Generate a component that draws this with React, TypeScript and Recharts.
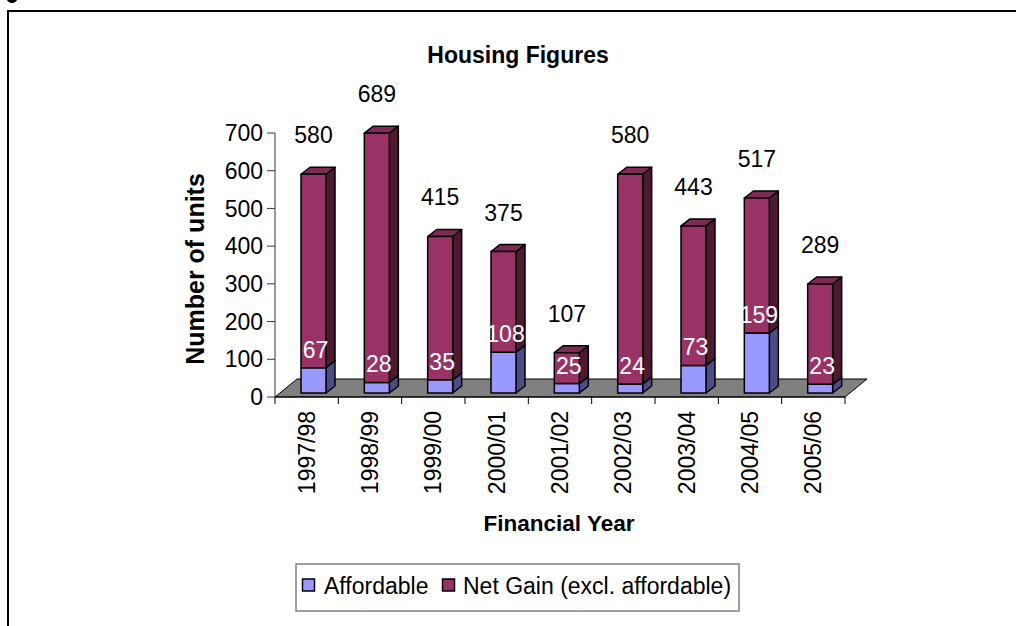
import React from 'react';
import { BarChart, Bar, XAxis, YAxis, LabelList } from 'recharts';

const years = ['1997/98', '1998/99', '1999/00', '2000/01', '2001/02', '2002/03', '2003/04', '2004/05', '2005/06'];
const affordable = [67, 28, 35, 108, 25, 24, 73, 159, 23];
const totals = [580, 689, 415, 375, 107, 580, 443, 517, 289];
const yTicks = [0, 100, 200, 300, 400, 500, 600, 700];
const seriesNames = ['Affordable', 'Net Gain (excl. affordable)'];
const chartTitle = 'Housing Figures';
const xTitle = 'Financial Year';
const yTitle = 'Number of units';

const data = years.map((year, i) => ({
  year,
  affordable: affordable[i],
  netGain: totals[i] - affordable[i],
  total: totals[i],
}));

const W = 1016;
const H = 626;
const PLOT_L = 275;
const PLOT_R = 845;
const PLOT_T = 133;
const PLOT_B = 397;
const YAXIS_W = 100;
const XAXIS_H = 130;
const BAND = (PLOT_R - PLOT_L) / years.length;
const FONT = 'Arial, "Liberation Sans", sans-serif';
const FS = 23;

// 3D offsets
const SHIFT_X = 7;
const SHIFT_Y = -4;
const DEPTH_X = 9;
const DEPTH_Y = -7;
const FLOOR_DX = 22;
const FLOOR_DY = -18;

const BLUE = { front: '#9999FF', side: '#4D4D85', top: '#7A7ACC' };
const MAROON = { front: '#993366', side: '#4D1933', top: '#7E2A55' };

function makeBox(c: { front: string; side: string; top: string }, drawTop: boolean) {
  return (p: any) => {
    const { x, y, width, height } = p;
    if (width == null || height == null) return <g />;
    const fx = x + SHIFT_X;
    const fy = y + SHIFT_Y;
    const w = width;
    const h = height;
    const side = `${fx + w},${fy} ${fx + w + DEPTH_X},${fy + DEPTH_Y} ${fx + w + DEPTH_X},${fy + h + DEPTH_Y} ${fx + w},${fy + h}`;
    const top = `${fx},${fy} ${fx + DEPTH_X},${fy + DEPTH_Y} ${fx + w + DEPTH_X},${fy + DEPTH_Y} ${fx + w},${fy}`;
    return (
      <g stroke="#000" strokeWidth={1.5} strokeLinejoin="round">
        <polygon points={side} fill={c.side} />
        {drawTop && <polygon points={top} fill={c.top} />}
        <rect x={fx} y={fy} width={w} height={h} fill={c.front} />
      </g>
    );
  };
}

const BlueBox = makeBox(BLUE, false);
const MaroonBox = makeBox(MAROON, true);

function InnerLabel(p: any) {
  const { x, y, width, value } = p;
  return (
    <text
      x={x + SHIFT_X + width / 2 + 2}
      y={y + SHIFT_Y - 10}
      textAnchor="middle"
      fill="#fff"
      fontSize={FS}
      fontFamily={FONT}
    >
      {value}
    </text>
  );
}

function TotalLabel(p: any) {
  const { x, y, width, value } = p;
  return (
    <text
      x={x + SHIFT_X + width / 2}
      y={y + SHIFT_Y - 31}
      textAnchor="middle"
      fill="#000"
      fontSize={FS}
      fontFamily={FONT}
    >
      {value}
    </text>
  );
}

function XTick(p: any) {
  const { x, payload, index } = p;
  return (
    <g>
      <line x1={x + BAND / 2} x2={x + BAND / 2} y1={PLOT_B} y2={PLOT_B + 7} stroke="#000" strokeWidth={1} />
      {index === 0 && (
        <line x1={x - BAND / 2} x2={x - BAND / 2} y1={PLOT_B} y2={PLOT_B + 7} stroke="#000" strokeWidth={1} />
      )}
      <text
        transform={`translate(${x},${PLOT_B + 14}) rotate(-90)`}
        textAnchor="end"
        dominantBaseline="central"
        fontSize={FS}
        fontFamily={FONT}
        fill="#000"
      >
        {payload.value}
      </text>
    </g>
  );
}

export default function App() {
  const floor = `${PLOT_L},${PLOT_B} ${PLOT_R},${PLOT_B} ${PLOT_R + FLOOR_DX},${PLOT_B + FLOOR_DY} ${PLOT_L + FLOOR_DX},${PLOT_B + FLOOR_DY}`;
  return (
    <div style={{ position: 'absolute', left: 0, top: 0, width: W, height: H, background: '#fff', overflow: 'hidden' }}>
      {/* floor underlay */}
      <svg width={W} height={H} style={{ position: 'absolute', left: 0, top: 0 }}>
        <polygon points={floor} fill="#808080" stroke="#000" strokeWidth={1} />
      </svg>
      <div style={{ position: 'absolute', left: 0, top: 0 }}>
        <BarChart
          width={W}
          height={H}
          data={data}
          barSize={25}
          margin={{ top: PLOT_T, right: W - PLOT_R, left: PLOT_L - YAXIS_W, bottom: H - PLOT_B - XAXIS_H }}
        >
          <XAxis
            dataKey="year"
            height={XAXIS_H}
            interval={0}
            tickLine={false}
            axisLine={{ stroke: '#000', strokeWidth: 1 }}
            tick={<XTick />}
          />
          <YAxis
            width={YAXIS_W}
            domain={[0, 700]}
            ticks={yTicks}
            interval={0}
            tickSize={8}
            tickMargin={4}
            axisLine={{ stroke: '#333', strokeWidth: 1 }}
            tickLine={{ stroke: '#333', strokeWidth: 1 }}
            tick={{ fontSize: FS, fontFamily: FONT, fill: '#000' }}
          />
          <Bar dataKey="affordable" stackId="s" name={seriesNames[0]} fill={BLUE.front} shape={BlueBox} isAnimationActive={false}>
            <LabelList dataKey="affordable" content={InnerLabel} />
          </Bar>
          <Bar dataKey="netGain" stackId="s" name={seriesNames[1]} fill={MAROON.front} shape={MaroonBox} isAnimationActive={false}>
            <LabelList dataKey="total" content={TotalLabel} />
          </Bar>
        </BarChart>
      </div>
      {/* frame, titles, legend */}
      <svg width={W} height={H} style={{ position: 'absolute', left: 0, top: 0, pointerEvents: 'none' }}>
        <ellipse cx={12} cy={-1} rx={5} ry={4} fill="#000" />
        <line x1={7} y1={11} x2={W} y2={11} stroke="#000" strokeWidth={2} />
        <line x1={8} y1={10} x2={8} y2={H} stroke="#000" strokeWidth={2} />
        <text x={518} y={63} textAnchor="middle" fontSize={23} fontWeight="bold" fontFamily={FONT} fill="#000">
          {chartTitle}
        </text>
        <text
          transform={`translate(195,269) rotate(-90)`}
          textAnchor="middle"
          dominantBaseline="central"
          fontSize={25}
          fontWeight="bold"
          fontFamily={FONT}
          fill="#000"
        >
          {yTitle}
        </text>
        <text x={559} y={531} textAnchor="middle" fontSize={22.5} fontWeight="bold" fontFamily={FONT} fill="#000">
          {xTitle}
        </text>
        <rect x={296} y={564} width={443} height={47} fill="#fff" stroke="#808080" strokeWidth={1.5} />
        <rect x={302.5} y={579} width={12} height={12} fill={BLUE.front} stroke="#000" strokeWidth={1.5} />
        <text x={324} y={594} fontSize={FS} fontFamily={FONT} fill="#000">
          {seriesNames[0]}
        </text>
        <rect x={442.5} y={579} width={12} height={12} fill={MAROON.front} stroke="#000" strokeWidth={1.5} />
        <text x={463} y={594} fontSize={FS} fontFamily={FONT} fill="#000">
          {seriesNames[1]}
        </text>
      </svg>
    </div>
  );
}
